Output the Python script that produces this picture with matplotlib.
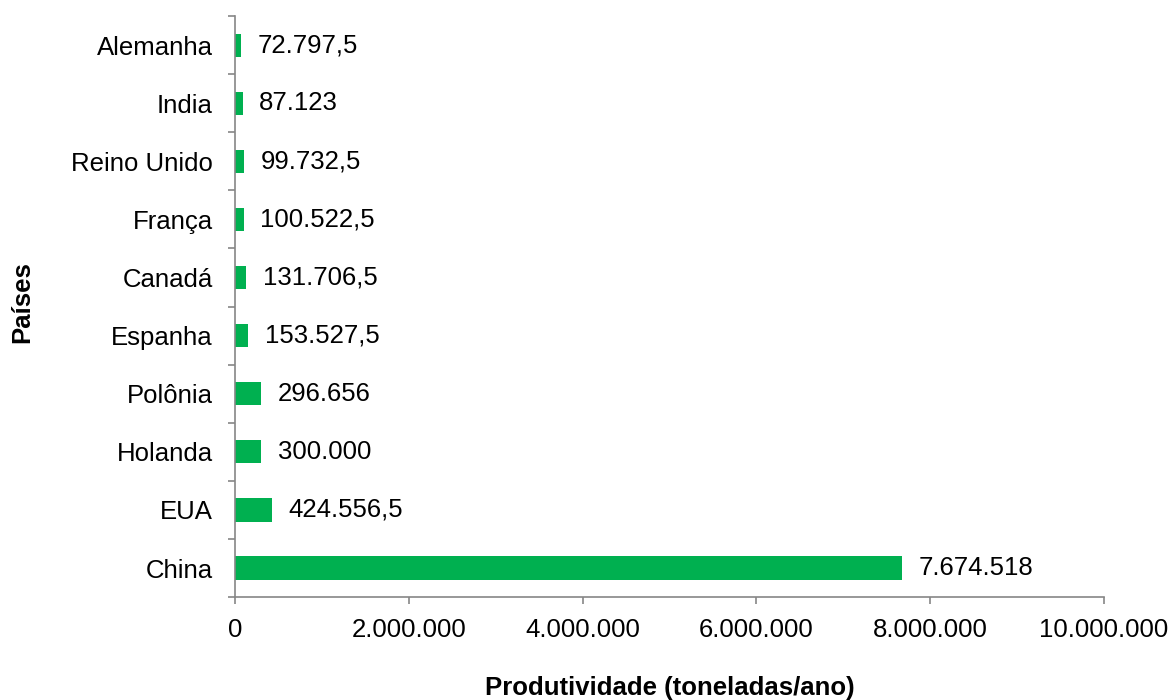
import numpy as np
import matplotlib as mpl
import matplotlib.pyplot as plt
from matplotlib.ticker import FixedLocator, FuncFormatter

mpl.rc('font', family=['Liberation Sans', 'DejaVu Sans'], size=18.5)

# produtividade por país (toneladas/ano), de baixo para cima
paises = ['China', 'EUA', 'Holanda', 'Polônia', 'Espanha', 'Canadá',
          'França', 'Reino Unido', 'India', 'Alemanha']
producao = [7674518, 424556.5, 300000, 296656, 153527.5, 131706.5,
            100522.5, 99732.5, 87123, 72797.5]
xticks = [0, 2000000, 4000000, 6000000, 8000000, 10000000]


def fmt_br(v):
    # 1234567.5 -> 1.234.567,5
    inteiro = int(v)
    s = '{:,}'.format(inteiro).replace(',', '.')
    resto = round(v - inteiro, 1)
    if resto > 0:
        s += ',' + str(int(round(resto * 10)))
    return s


fig = plt.figure(figsize=(11.75, 7), dpi=100)
ax = fig.add_axes([0.2, 0.147, 0.7396, 0.83])

y = np.arange(len(paises))
ax.barh(y, producao, height=0.4, color='#00B050')

for yi, v in zip(y, producao):
    ax.annotate(fmt_br(v), (v, yi), xytext=(12, 0), textcoords='offset points',
                va='center', ha='left', fontsize=18.5)

ax.set_xlim(0, 10000000)
ax.set_ylim(-0.5, len(paises) - 0.5)

grey = '#868686'
for s in ['top', 'right']:
    ax.spines[s].set_visible(False)
for s in ['left', 'bottom']:
    ax.spines[s].set_color(grey)
    ax.spines[s].set_linewidth(1.2)

ax.set_xticks(xticks)
ax.xaxis.set_major_formatter(FuncFormatter(lambda v, p: fmt_br(v)))
ax.tick_params(axis='x', direction='out', length=5, width=1.2, color=grey, pad=10)

# rótulos no centro das categorias, marcas nas divisas
ax.set_yticks(y)
ax.set_yticklabels(paises)
ax.yaxis.set_minor_locator(FixedLocator(np.arange(-0.5, len(paises), 1)))
ax.tick_params(axis='y', which='major', length=0, pad=16)
ax.tick_params(axis='y', which='minor', direction='out', length=5, width=1.2, color=grey)

fig.text(0.57, 0.017, 'Produtividade (toneladas/ano)', ha='center', va='center',
         fontsize=18.5, fontweight='bold')
fig.text(0.019, 0.568, 'Países', ha='center', va='center', rotation=90,
         fontsize=18.5, fontweight='bold')

fig.savefig('out.png', dpi=100)
